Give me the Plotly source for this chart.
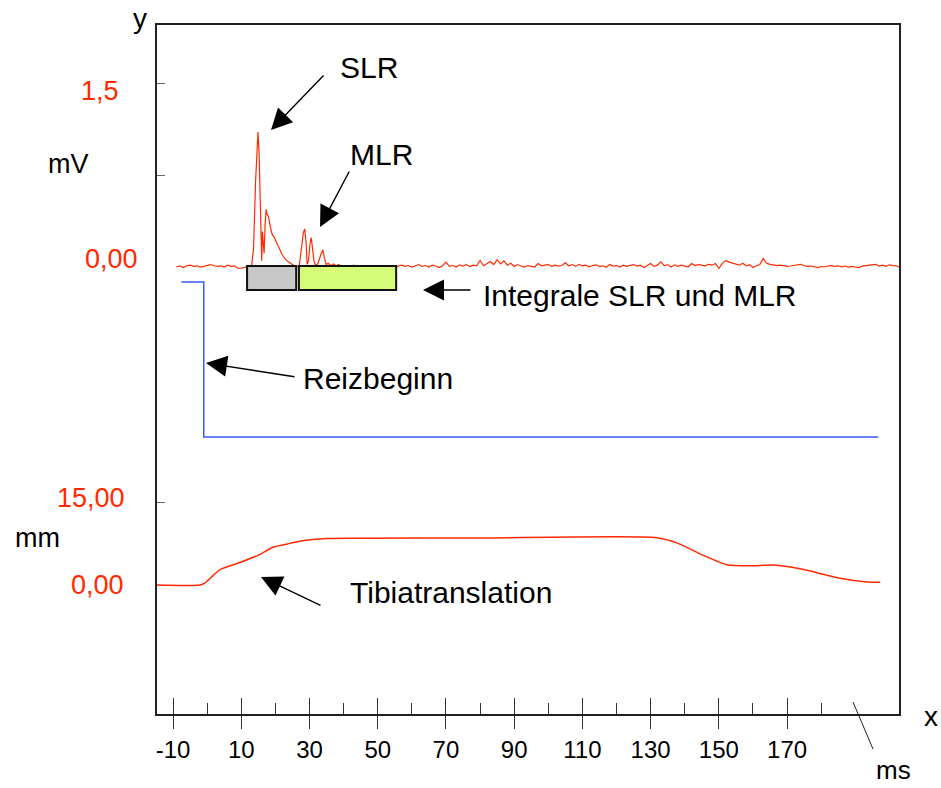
import numpy as np
import plotly.graph_objects as go

# ---------------- data ----------------
# EMG (mV): baseline noise before response, response, baseline noise after
emg_pre_t = list(np.arange(-9, 13, 1))
emg_pre_v = [0.00, 0.01, -0.005, 0.01, 0.015, 0.005, 0.01, 0.0, 0.005, 0.015, 0.02,
             0.01, 0.005, 0.01, 0.0, 0.015, 0.005, 0.01, -0.01, -0.01, 0.0, 0.005]
emg_resp_t = [13.0, 13.6, 14.2, 14.6, 14.9, 15.2, 15.5, 15.8, 16.0, 16.2, 16.5, 16.7,
              17.0, 17.3, 17.6, 18.0, 18.5, 19.0, 19.5, 20.0, 20.7, 21.3, 22.0, 23.0,
              24.0, 25.0, 26.0, 27.0, 27.6, 28.2, 28.6, 29.0, 29.3, 29.7, 30.2, 30.5,
              30.9, 31.3, 31.8, 32.5, 33.3, 33.9, 34.4, 34.9, 35.5, 36.3, 37.0, 37.8,
              38.6, 39.3, 40.0]
emg_resp_v = [0.0, 0.15, 0.7, 1.02, 1.10, 0.95, 0.5, 0.08, 0.05, 0.29, 0.2, 0.11,
              0.35, 0.47, 0.43, 0.41, 0.33, 0.27, 0.25, 0.22, 0.19, 0.15, 0.10, 0.06,
              0.04, 0.02, 0.0, 0.01, 0.15, 0.28, 0.31, 0.2, 0.02, 0.05, 0.2, 0.24,
              0.15, 0.05, 0.01, 0.03, 0.1, 0.14, 0.07, 0.02, 0.03, 0.01, 0.025, 0.01,
              0.02, 0.005, 0.01]
emg_post_t = list(np.arange(41, 205, 1))
emg_post_v = [0.01, 0.005, 0.015, 0.0, 0.01, 0.005, 0.012, 0.0, 0.008, 0.004,
              0.01, 0.0, 0.006, 0.012, 0.0, 0.008, 0.015, 0.005, 0.012, 0.0,
              0.01, 0.02, 0.005, 0.012, 0.0, 0.015, 0.008, -0.005, 0.01, 0.04,
              0.005, 0.012, 0.0, 0.018, 0.008, 0.02, 0.004, 0.015, 0.01, 0.055,
              0.01, 0.03, 0.045, 0.02, 0.06, 0.025, 0.05, 0.015, 0.03, 0.005,
              0.02, 0.008, 0.0, 0.012, 0.005, 0.0, 0.028, 0.01, 0.015, 0.02,
              0.005, 0.015, 0.008, 0.012, 0.035, 0.01, 0.02, 0.005, 0.022, 0.01,
              0.015, 0.002, 0.012, 0.018, 0.005, 0.01, -0.002, 0.02, 0.008, 0.012,
              0.0, 0.015, 0.005, 0.012, 0.02, 0.008, 0.015, -0.005, 0.01, 0.028,
              0.005, 0.015, 0.042, 0.01, 0.02, 0.0, 0.018, 0.005, 0.015, 0.01,
              0.0, 0.028, 0.012, 0.02, 0.018, 0.01, 0.022, 0.015, 0.028, -0.012,
              0.03, 0.052, 0.04, 0.03, 0.025, 0.015, 0.03, 0.01, 0.02, -0.004,
              0.01, 0.02, 0.068, 0.03, 0.022, 0.018, 0.012, 0.015, 0.01, 0.005,
              0.008, 0.012, 0.018, 0.022, 0.01, 0.005, 0.008, 0.0, -0.005, 0.004,
              0.0, 0.008, 0.012, 0.006, 0.01, 0.002, 0.008, 0.0, 0.005, 0.0,
              -0.004, 0.008, 0.01, 0.012, 0.02, 0.022, 0.008, 0.015, 0.005, 0.018,
              0.012, 0.01, 0.0, 0.008]

# Stimulus marker (arbitrary units)
stim_t = [-7.6, -1.0, -1.0, 196.7]
stim_v = [1.0, 1.0, 0.0, 0.0]

# Tibia translation (mm)
tibia_t = [-15, -2.1, -0.6, 1.7, 3.8, 9.6, 15.5, 19.3, 24.3, 27.2, 35.1, 43.4,
           80, 131.8, 137.7, 145.5, 152.3, 159.2, 166.0, 173.8, 185.5, 193.4, 197.3]
tibia_v = [0.0, 0.0, 0.4, 1.7, 2.8, 4.1, 5.6, 6.9, 7.6, 8.0, 8.5, 8.55,
           8.6, 8.65, 7.7, 5.4, 3.7, 3.5, 3.65, 2.96, 1.24, 0.56, 0.5]

# Integration windows (ms)
win_start = [11.7, 26.9]
win_end = [26.1, 55.4]
win_colors = ["#c8c8c8", "#d5fb78"]
win_top, win_bottom = 0.008, -0.187

# Axis ticks
x_major = [-10, 10, 30, 50, 70, 90, 110, 130, 150, 170]
x_major_text = ["-10", "10", "30", "50", "70", "90", "110", "130", "150", "170"]
x_minor = [0, 20, 40, 60, 80, 100, 120, 140, 160, 180]
mv_ticks = [0.75, 1.5]
mv_labels = ["1,5", "0,00"]
mv_label_vals = [1.5, 0.0]
mm_ticks = [15]
mm_labels = ["15,00", "0,00"]
mm_label_vals = [15, 0]

# ---------------- figure ----------------
FONT = "Liberation Sans, Arial, sans-serif"
RED = "#ff2a00"
W, H = 941, 788
L, R, T, B = 157, 42, 25, 74
PW, PH = W - L - R, H - T - B

def px(x):
    return (x - L) / PW

def py(y):
    return (H - B - y) / PH

emg_t = emg_pre_t + emg_resp_t + emg_post_t
emg_v = emg_pre_v + emg_resp_v + emg_post_v

fig = go.Figure()
fig.add_trace(go.Scatter(x=emg_t, y=emg_v, mode="lines", line=dict(color=RED, width=1.2),
                         yaxis="y", xaxis="x", showlegend=False, hoverinfo="skip"))
fig.add_trace(go.Scatter(x=stim_t, y=stim_v, mode="lines", line=dict(color="#3a5cf0", width=1.5),
                         yaxis="y2", xaxis="x", showlegend=False, hoverinfo="skip"))
fig.add_trace(go.Scatter(x=tibia_t, y=tibia_v, mode="lines", line=dict(color=RED, width=1.5, shape="spline", smoothing=0.6),
                         yaxis="y3", xaxis="x", showlegend=False, hoverinfo="skip"))
# invisible trace for overlay x axis
fig.add_trace(go.Scatter(x=[x_major[0]], y=[0], mode="markers", marker=dict(opacity=0),
                         xaxis="x2", yaxis="y", showlegend=False, hoverinfo="skip"))

shapes = []
for s, e, c in zip(win_start, win_end, win_colors):
    shapes.append(dict(type="rect", xref="x", yref="y", x0=s, x1=e, y0=win_bottom, y1=win_top,
                       fillcolor=c, line=dict(color="#111", width=2), layer="above"))
# "ms" leader line
shapes.append(dict(type="line", xref="paper", yref="paper", x0=px(853), y0=py(702), x1=px(873), y1=py(749),
                   line=dict(color="#222", width=1)))

annotations = []
def txt(text, x, y, size=30, color="black", xanchor="center"):
    annotations.append(dict(text=text, x=px(x), y=py(y), xref="paper", yref="paper", showarrow=False,
                            font=dict(family=FONT, size=size, color=color), xanchor=xanchor, yanchor="middle"))

txt("y", 140, 18, size=28)
txt("x", 931, 716, size=28)
txt("ms", 893, 770, size=26)
txt("SLR", 369, 67)
txt("MLR", 381, 155)
txt("Integrale SLR und MLR", 640, 295)
txt("Reizbeginn", 378, 378)
txt("Tibiatranslation", 451, 592)
txt("mV", 68, 164, size=27)
txt("mm", 37, 538, size=27)

# red value labels
for lab, v, xr, dy in zip(mv_labels, mv_label_vals, [121, 140], [-8, 8]):
    annotations.append(dict(text=lab, x=px(xr), y=v, xref="paper", yref="y", showarrow=False, yshift=dy,
                            font=dict(family=FONT, size=27, color=RED), xanchor="right", yanchor="middle"))
for lab, v, xr, dy in zip(mm_labels, mm_label_vals, [127, 126], [5, 0]):
    annotations.append(dict(text=lab, x=px(xr), y=v, xref="paper", yref="y3", showarrow=False, yshift=dy,
                            font=dict(family=FONT, size=27, color=RED), xanchor="right", yanchor="middle"))

def arrow(tip, tail):
    annotations.append(dict(text="", x=px(tip[0]), y=py(tip[1]), xref="paper", yref="paper",
                            ax=tail[0] - tip[0], ay=tail[1] - tip[1], axref="pixel", ayref="pixel",
                            showarrow=True, arrowhead=2, arrowsize=3.0, arrowwidth=1.4, arrowcolor="black"))

arrow((271, 130), (325, 74))
arrow((320, 227), (350, 170))
arrow((423, 290), (472, 290))
arrow((206, 363), (296, 377))
arrow((261, 577), (322, 606))

axis_line = dict(showline=True, linecolor="#222", linewidth=1.5, mirror=True, showgrid=False, zeroline=False)

fig.update_layout(
    width=W, height=H,
    margin=dict(l=L, r=R, t=T, b=B, pad=0),
    paper_bgcolor="white", plot_bgcolor="white",
    font=dict(family=FONT, color="black"),
    xaxis=dict(range=[-14.7, 202.8], tickmode="array", tickvals=x_major, ticktext=x_major_text,
               ticks="outside", ticklen=13, tickwidth=1.2, tickcolor="#333",
               tickfont=dict(family=FONT, size=24, color="black"),
               minor=dict(tickmode="array", tickvals=x_minor, ticks="inside", ticklen=11, tickwidth=1.2, tickcolor="#333"),
               **axis_line),
    xaxis2=dict(range=[-14.7, 202.8], overlaying="x", anchor="y", side="bottom", tickmode="array", tickvals=x_major,
                ticks="inside", ticklen=16, tickwidth=1.2, tickcolor="#333", showticklabels=False,
                showline=False, showgrid=False, zeroline=False),
    yaxis=dict(range=[-3.644, 1.973], tickmode="array", tickvals=mv_ticks, ticks="inside", ticklen=8,
               tickwidth=1, tickcolor="#666", showticklabels=False, **axis_line),
    yaxis2=dict(range=[-1.787, 2.658], overlaying="y", visible=False),
    yaxis3=dict(range=[-23.6, 102.4], overlaying="y", side="left", anchor="x", tickmode="array", tickvals=mm_ticks,
                ticks="inside", ticklen=8, tickwidth=1, tickcolor="#666", showticklabels=False,
                showline=False, showgrid=False, zeroline=False),
    shapes=shapes,
    annotations=annotations,
)

fig.write_html("out.html")
